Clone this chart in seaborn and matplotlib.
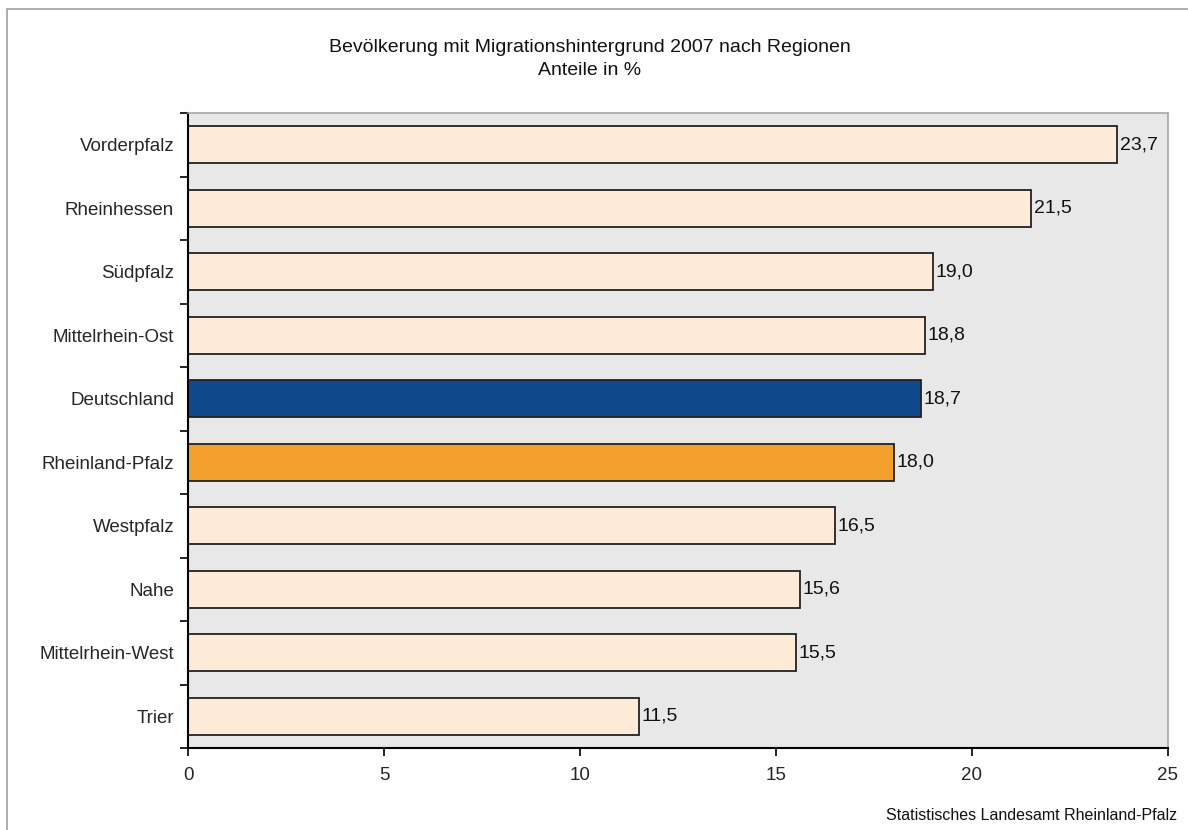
import matplotlib
matplotlib.use("Agg")
import matplotlib.pyplot as plt
import seaborn as sns
import numpy as np
from matplotlib.patches import Rectangle
from matplotlib.ticker import FixedLocator, NullFormatter

regions = ["Vorderpfalz", "Rheinhessen", "Südpfalz", "Mittelrhein-Ost", "Deutschland",
           "Rheinland-Pfalz", "Westpfalz", "Nahe", "Mittelrhein-West", "Trier"]
values = [23.7, 21.5, 19.0, 18.8, 18.7, 18.0, 16.5, 15.6, 15.5, 11.5]
bar_colors = ["#fdebd7", "#fdebd7", "#fdebd7", "#fdebd7", "#0f4a8c",
              "#f5a02e", "#fdebd7", "#fdebd7", "#fdebd7", "#fdebd7"]
x_ticks = [0, 5, 10, 15, 20, 25]
title = "Bevölkerung mit Migrationshintergrund 2007 nach Regionen\nAnteile in %"
source = "Statistisches Landesamt Rheinland-Pfalz"

sns.set_theme(style="white")
plt.rcParams['font.family'] = ['Liberation Sans', 'DejaVu Sans']

fig = plt.figure(figsize=(11.88, 8.3), dpi=100)
W, H = 1188, 830
ax = fig.add_axes([188 / W, 1 - 748 / H, (1168 - 188) / W, (748 - 113) / H])
ax.set_facecolor("#e8e8e8")

sns.barplot(x=values, y=regions, hue=regions, palette=bar_colors, legend=False,
            orient="h", width=0.59, edgecolor="#222222", linewidth=1.3, ax=ax,
            saturation=1)

ax.set_xlim(0, 25)
ax.set_ylim(len(regions) - 0.5, -0.5)
ax.set_xticks(x_ticks)
ax.set_xticklabels([str(t) for t in x_ticks], fontsize=13.5)
ax.tick_params(axis="x", direction="out", length=6, width=1.2, color="black", pad=8, bottom=True)
ax.set_yticks(range(len(regions)))
ax.set_yticklabels(regions, fontsize=13.5)
ax.tick_params(axis="y", which="major", length=0, pad=10)
ax.yaxis.set_minor_locator(FixedLocator(np.arange(-0.5, len(regions), 1.0)))
ax.yaxis.set_minor_formatter(NullFormatter())
ax.tick_params(axis="y", which="minor", direction="out", length=6, width=1.2, color="black", left=True)
ax.set_xlabel("")
ax.set_ylabel("")

for side in ["left", "bottom"]:
    ax.spines[side].set_color("black")
    ax.spines[side].set_linewidth(1.5)
for side in ["top", "right"]:
    ax.spines[side].set_color("#a8a8a8")
    ax.spines[side].set_linewidth(1.2)

for c in ax.containers:
    ax.bar_label(c, labels=[f"{v:.1f}".replace(".", ",") for v in c.datavalues],
                 padding=2, fontsize=14, color="#111111")

fig.text(590 / W, 1 - 59 / H, title, ha="center", va="center", fontsize=14,
         linespacing=1.4, color="#111111")
fig.text(1177 / W, 1 - 815 / H, source, ha="right", va="center", fontsize=11.5,
         color="#111111")

frame = Rectangle((7 / W, -0.05), 1.2, 1 - 9 / H + 0.05, transform=fig.transFigure,
                  fill=False, edgecolor="#a0a0a0", linewidth=1.2, zorder=-1)
fig.patches.append(frame)

fig.savefig("out.png", dpi=100)
